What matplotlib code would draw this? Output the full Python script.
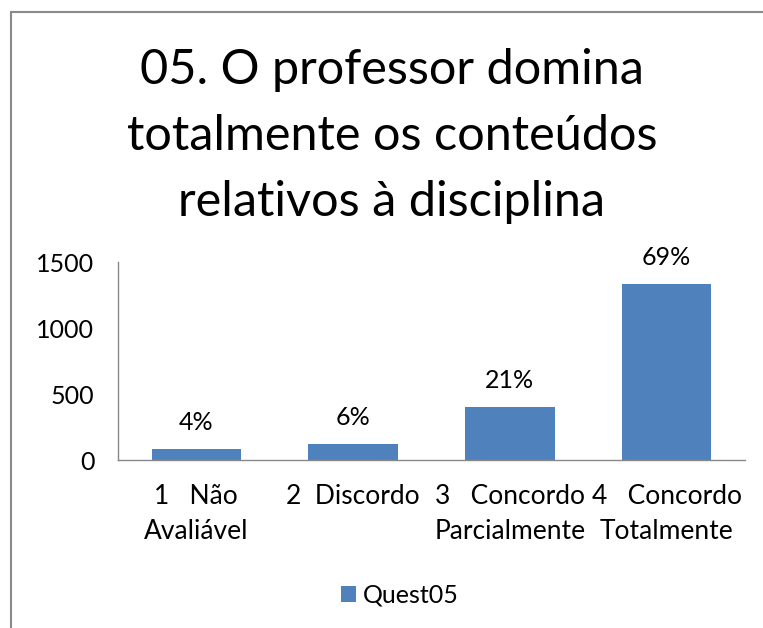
import matplotlib.pyplot as plt
from matplotlib.patches import Rectangle

# dados
categorias = ['1   Não\nAvaliável', '2  Discordo', '3   Concordo\nParcialmente', '4   Concordo\nTotalmente']
valores = [84, 122, 402, 1330]
rotulos = ['4%', '6%', '21%', '69%']
serie = 'Quest05'
titulo = '05. O professor domina\ntotalmente os conteúdos\nrelativos à disciplina'
yticks = [0, 500, 1000, 1500]

plt.rcParams['font.family'] = ['Lato', 'DejaVu Sans']

fig = plt.figure(figsize=(7.63, 6.28), dpi=100)
W, H = 763, 628

# moldura do gráfico (só aparecem os lados esquerdo e superior)
fig.patches.append(Rectangle((11 / W, -0.2), 1.2, 1.2 - 12 / H, transform=fig.transFigure,
                             fill=False, edgecolor='#8a8a8a', linewidth=1.5))

fig.text(392 / W, 1 - 136 / H, titulo, ha='center', va='center', fontsize=35,
         linespacing=1.6, color='black')

ax = fig.add_axes([118 / W, 1 - 460 / H, 627 / W, 198 / H])
x = range(len(categorias))
ax.bar(x, valores, width=0.57, color='#4F81BD', label=serie)
for xi, v, r in zip(x, valores, rotulos):
    ax.annotate(r, (xi, v), xytext=(0, 11), textcoords='offset points',
                ha='center', va='bottom', fontsize=18)

ax.set_xlim(-0.5, 3.5)
ax.set_ylim(0, 1500)
ax.set_yticks(yticks)
ax.set_xticks(list(x))
ax.set_xticklabels(categorias, fontsize=19, linespacing=1.5, va='top')
ax.tick_params(axis='y', length=0, labelsize=18, pad=17)
ax.tick_params(axis='x', length=0, pad=17)
for s in ['top', 'right']:
    ax.spines[s].set_visible(False)
for s in ['left', 'bottom']:
    ax.spines[s].set_color('#888888')
    ax.spines[s].set_linewidth(1.0)

fig.legend(loc='center', bbox_to_anchor=(400 / W, 1 - 595 / H), frameon=False,
           fontsize=18, handlelength=0.6, handleheight=0.6, handletextpad=0.3)

fig.savefig('out.png', dpi=100)
